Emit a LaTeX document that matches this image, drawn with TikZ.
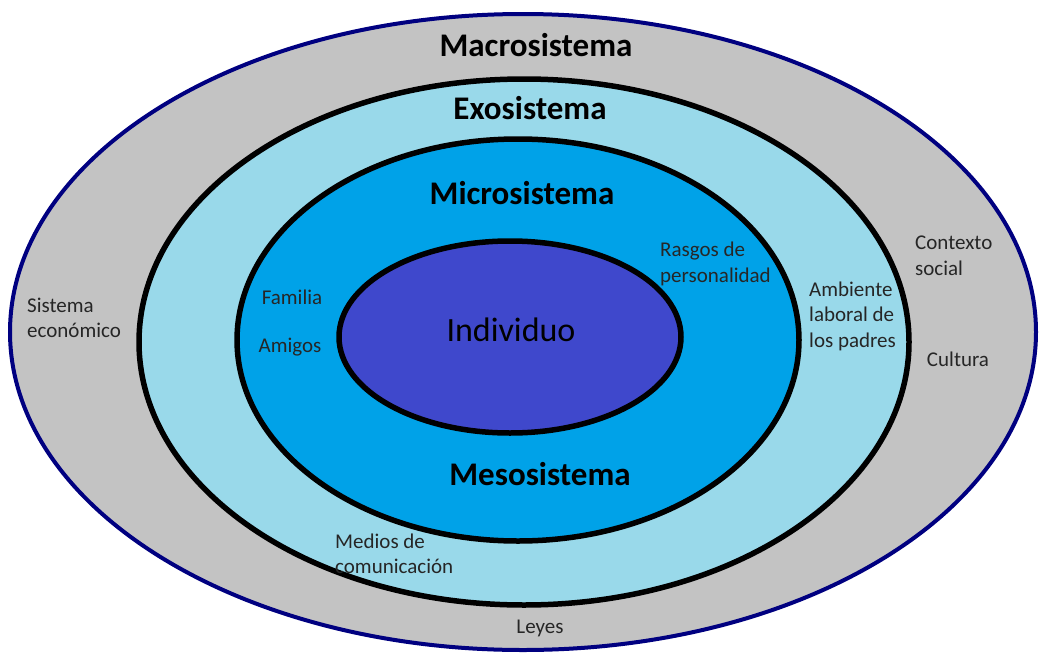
\documentclass[tikz,border=0pt]{standalone}
\usepackage{fontspec}
\setmainfont{Carlito}
\usetikzlibrary{positioning}

\definecolor{macrogris}{HTML}{C3C3C3}
\definecolor{exoazul}{HTML}{99D9EA}
\definecolor{microazul}{HTML}{00A2E8}
\definecolor{indigo}{HTML}{3F48CC}
\definecolor{marino}{HTML}{000080}

\begin{document}
\begin{tikzpicture}[x=1pt, y=-1pt,
    titulo/.style={font=\fontsize{33}{40}\selectfont\bfseries},
    etiqueta/.style={font=\fontsize{21}{25.5}\selectfont, align=left, inner sep=0pt, text=black!85},
    capa/.style={draw=black, line width=5.5pt}]
    \useasboundingbox (0,0) rectangle (1039,656);

    % Nested layers, from the outside in
    \filldraw[fill=macrogris, draw=marino, line width=4pt] (523,332) ellipse [x radius=513, y radius=318];
    \filldraw[capa, fill=exoazul] (524,342) ellipse [x radius=385, y radius=263];
    \filldraw[capa, fill=microazul] (518,340) ellipse [x radius=281, y radius=201];
    \filldraw[capa, fill=indigo] (510,337) ellipse [x radius=171, y radius=96];

    % Layer titles
    \node[titulo] (macro) at (536,45) {Macrosistema};
    \node[titulo] (exo) at (530,108) {Exosistema};
    \node[titulo] (micro) at (522,193) {Microsistema};
    \node[titulo] (meso) at (540,474) {Mesosistema};
    \node[font=\fontsize{34}{40}\selectfont] (individuo) at (511,330) {Individuo};

    % Labels inside each layer
    \node[etiqueta] (familia) at (292,297) {Familia};
    \node[etiqueta] (amigos) at (290,347) {Amigos};
    \node[etiqueta, anchor=west] (rasgos) at (660,264) {Rasgos de\\personalidad};
    \node[etiqueta, anchor=west] (ambiente) at (809,316) {Ambiente\\laboral de\\los padres};
    \node[etiqueta, anchor=west] (contexto) at (915,256) {Contexto\\social};
    \node[etiqueta] (cultura) at (958,359) {Cultura};
    \node[etiqueta, anchor=west] (sistema) at (27,318) {Sistema\\económico};
    \node[etiqueta, anchor=west] (medios) at (335,554) {Medios de\\comunicación};
    \node[etiqueta] (leyes) at (540,628) {Leyes};
\end{tikzpicture}
\end{document}
